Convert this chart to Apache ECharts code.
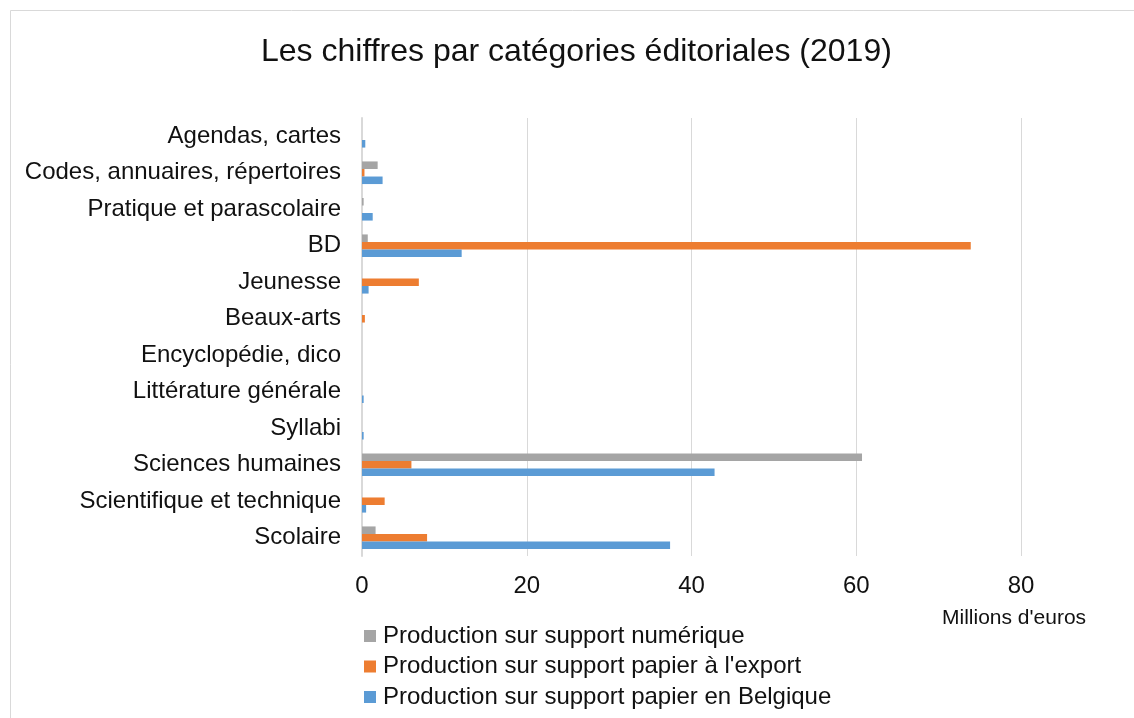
<!DOCTYPE html>
<html><head><meta charset="utf-8">
<script src="https://cdn.jsdelivr.net/npm/echarts@6/dist/echarts.min.js"></script>
<style>html,body{margin:0;padding:0;background:#fff}#c{width:1134px;height:718px}</style>
</head><body><div id="c"></div>
<script>
const categories = ["Scolaire","Scientifique et technique","Sciences humaines","Syllabi","Littérature générale","Encyclopédie, dico","Beaux-arts","Jeunesse","BD","Pratique et parascolaire","Codes, annuaires, répertoires","Agendas, cartes"];
const seriesNames = ["Production sur support numérique","Production sur support papier à l'export","Production sur support papier en Belgique"];
const numerique = [1.65, 0, 60.7, 0, 0, 0, 0, 0, 0.7, 0.2, 1.9, 0];
const exportPapier = [7.9, 2.75, 6.0, 0, 0, 0, 0.35, 6.9, 73.9, 0, 0.3, 0];
const belgique = [37.4, 0.5, 42.8, 0.2, 0.2, 0, 0, 0.8, 12.1, 1.3, 2.5, 0.4];
const xTicks = [0, 20, 40, 60, 80];
const colors = ["#a5a5a5", "#ed7d31", "#5b9bd5"];
const font = "Liberation Sans, Arial, sans-serif";

const chart = echarts.init(document.getElementById('c'), null, {renderer:'canvas'});
chart.setOption({
  animation: false,
  backgroundColor: '#fff',
  title: {text: 'Les chiffres par catégories éditoriales (2019)', left: 261, top: 36, padding: 0,
    textStyle: {fontFamily: font, fontSize: 32, fontWeight: 'normal', color: '#111'}},
  graphic: [
    {type:'rect', shape:{x:10.5,y:10.5,width:1200,height:800}, style:{fill:'none', stroke:'#d9d9d9', lineWidth:1}, silent:true},
    {type:'text', left: 942, top: 608, style:{text:"Millions d'euros", fontFamily: font, fontSize: 21, fill:'#111'}}
  ],
  legend: {orient:'vertical', left: 364, top: 624, padding: 0, itemWidth: 12, itemHeight: 12, itemGap: 6.5,
    icon: 'rect', data: seriesNames.slice(),
    textStyle: {fontFamily: font, fontSize: 24, lineHeight: 24, color:'#111', padding:[0,0,0,2]}},
  grid: {left: 362, right: 113, top: 118, bottom: 162, containLabel: false},
  xAxis: {type:'value', min: xTicks[0], max: xTicks[xTicks.length-1], interval: 20,
    axisLine:{show:false}, axisTick:{show:false},
    splitLine:{lineStyle:{color:'#d9d9d9', width:1}},
    axisLabel:{fontFamily: font, fontSize: 24, color:'#111', margin: 18}},
  yAxis: {type:'category', data: categories,
    axisLine:{show:true, lineStyle:{color:'#d9d9d9', width:2}}, axisTick:{show:false},
    axisLabel:{fontFamily: font, fontSize: 24, color:'#111', margin: 21}},
  series: [
    {name: seriesNames[0], type:'bar', data: numerique, itemStyle:{color: colors[0]}, barGap: '0%', barCategoryGap: '38%'},
    {name: seriesNames[1], type:'bar', data: exportPapier, itemStyle:{color: colors[1]}, barGap: '0%', barCategoryGap: '38%'},
    {name: seriesNames[2], type:'bar', data: belgique, itemStyle:{color: colors[2]}, barGap: '0%', barCategoryGap: '38%'}
  ]
});
</script></body></html>
